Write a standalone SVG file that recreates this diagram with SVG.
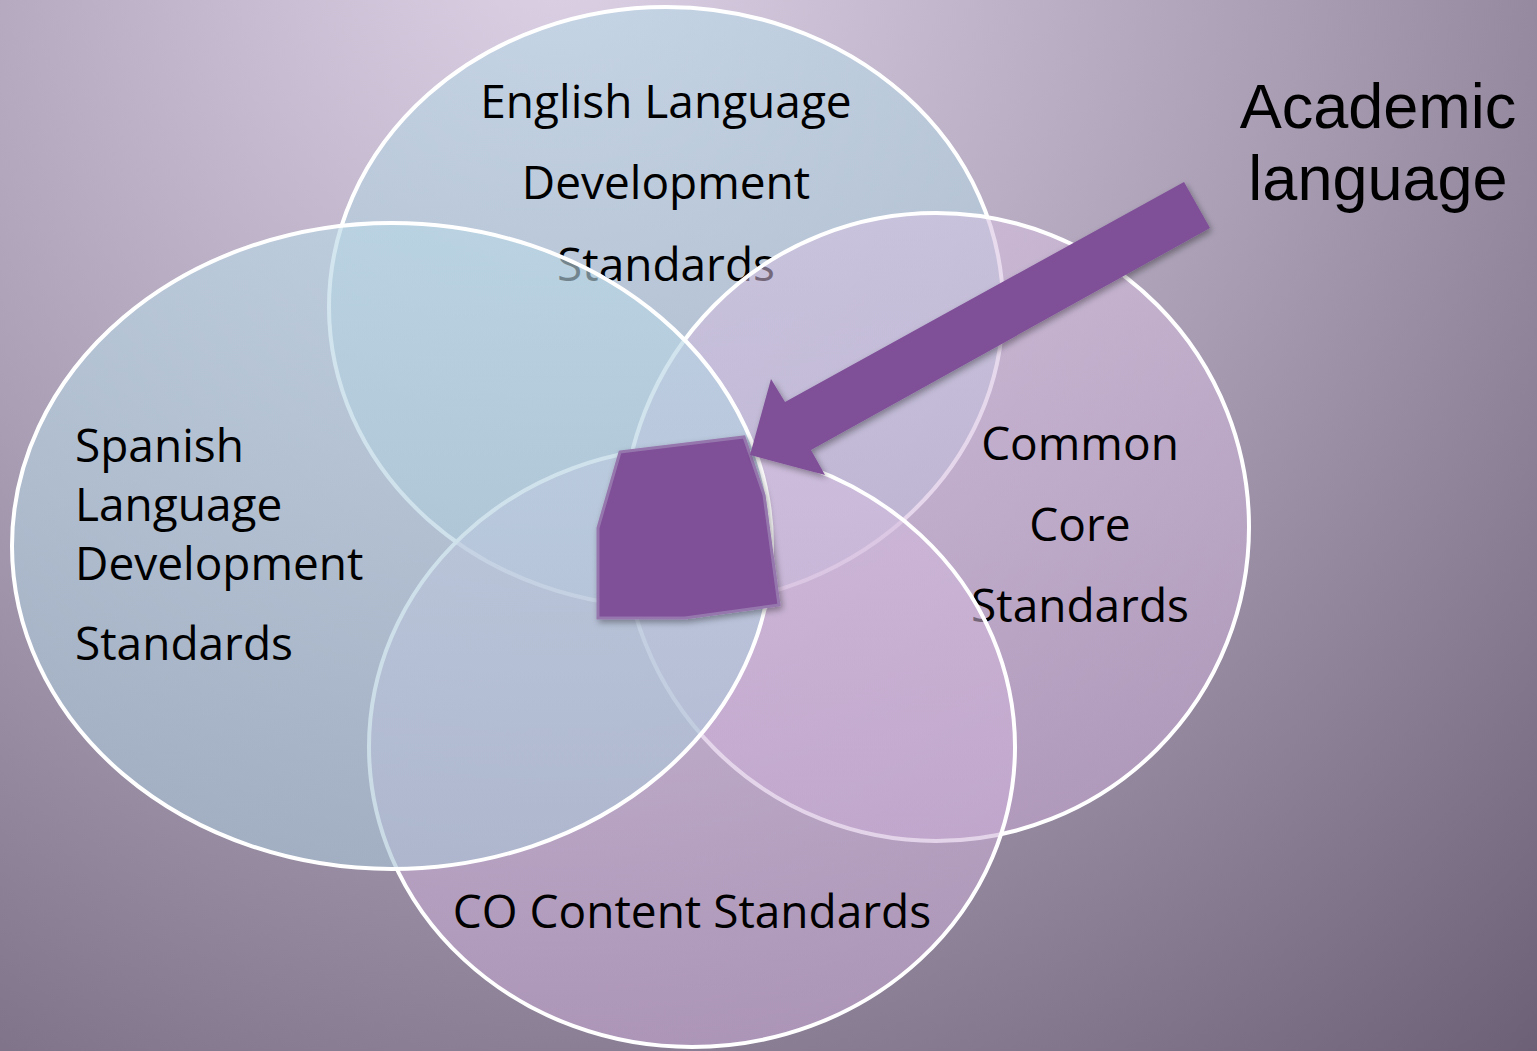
<svg xmlns="http://www.w3.org/2000/svg" width="1537" height="1051" viewBox="0 0 1537 1051">
<defs>
<radialGradient id="bg" cx="560" cy="-60" r="1650" gradientUnits="userSpaceOnUse">
<stop offset="0" stop-color="#ddd2e6"/>
<stop offset="0.45" stop-color="#a89db3"/>
<stop offset="1" stop-color="#5e5269"/>
</radialGradient>
<linearGradient id="blue" x1="0" y1="0" x2="0" y2="1">
<stop offset="0" stop-color="#b9d8e6"/>
<stop offset="1" stop-color="#a9c4d6"/>
</linearGradient>
<linearGradient id="pink" x1="0" y1="0" x2="0" y2="1">
<stop offset="0" stop-color="#d6bfe0"/>
<stop offset="1" stop-color="#c8a8d4"/>
</linearGradient>
<filter id="sh" x="-20%" y="-20%" width="140%" height="140%">
<feDropShadow dx="2" dy="3" stdDeviation="3" flood-color="#000" flood-opacity="0.35"/>
</filter>
</defs>
<style>
.ell{stroke:#ffffff;stroke-width:4}
.b{fill:url(#blue);fill-opacity:0.62}
.p{fill:url(#pink);fill-opacity:0.55}
.lbl{font-family:"Open Sans",Lato,"DejaVu Sans",sans-serif;font-size:46px;fill:#000}
.mid{text-anchor:middle}
.aca{font-family:"Liberation Sans",Arial,sans-serif;font-size:63px;fill:#000;text-anchor:middle}
.purple{fill:#7f4f98}
</style>
<rect x="0" y="0" width="1537" height="1051" fill="url(#bg)"/>
<g id="english">
<ellipse class="ell b" cx="666" cy="307" rx="337" ry="300"/>
<text class="lbl mid" x="666" y="118">English Language</text>
<text class="lbl mid" x="666" y="199">Development</text>
<text class="lbl mid" x="666" y="281">Standards</text>
</g>
<g id="common-core">
<ellipse class="ell p" cx="936" cy="527" rx="313" ry="314"/>
<text class="lbl mid" x="1080" y="460">Common</text>
<text class="lbl mid" x="1080" y="541">Core</text>
<text class="lbl mid" x="1080" y="622">Standards</text>
</g>
<g id="co-content">
<ellipse class="ell p" cx="692" cy="747" rx="323" ry="300"/>
<text class="lbl mid" x="692" y="928">CO Content Standards</text>
</g>
<g id="spanish">
<ellipse class="ell b" cx="392" cy="546" rx="380" ry="323"/>
<text class="lbl" x="75" y="462">Spanish</text>
<text class="lbl" x="75" y="521">Language</text>
<text class="lbl" x="75" y="580">Development</text>
<text class="lbl" x="75" y="660">Standards</text>
</g>
<g id="academic-language">
<polygon class="purple" points="620,452 744,437 764,495 779,605 685,618 598,618 598,528" stroke="#9677ad" stroke-width="3" filter="url(#sh)"/>
<text class="aca" x="1378" y="128">Academic</text>
<text class="aca" x="1378" y="200">language</text>
</g>
<g id="connectors">
<polygon class="purple" points="1184,182 1210,228 811,450 825,475 750,455 771,379 785,402" filter="url(#sh)"/>
</g>
</svg>
